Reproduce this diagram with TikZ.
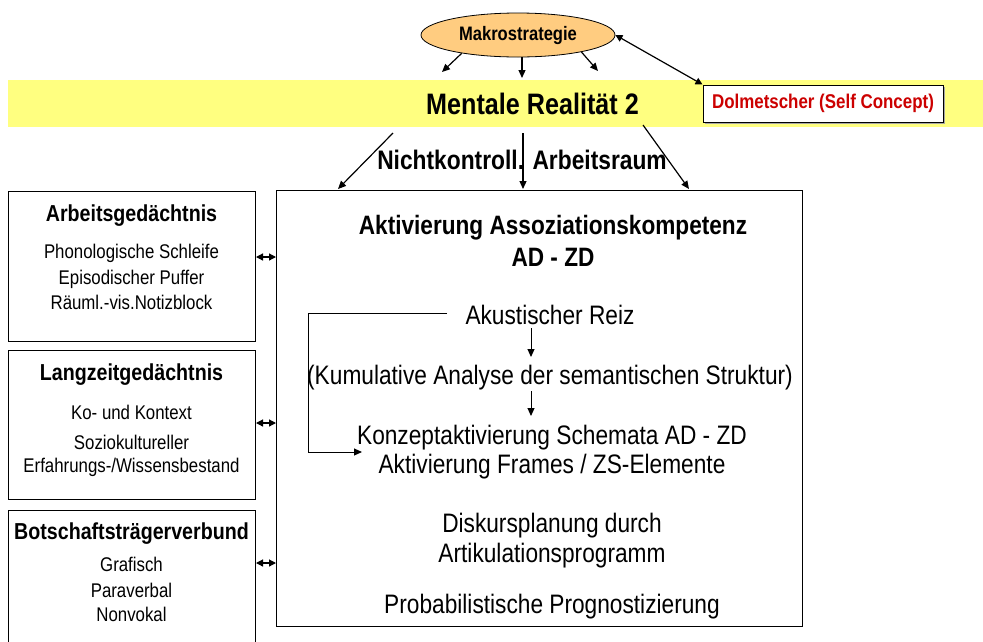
\documentclass[tikz,border=0pt]{standalone}
\usepackage{fontspec}
\setmainfont{Liberation Sans}[FakeStretch=0.85]
\usetikzlibrary{arrows.meta,shapes.geometric,shadows}
\definecolor{bandyellow}{RGB}{255,255,128}
\definecolor{makorange}{RGB}{255,204,128}
\definecolor{dolred}{RGB}{204,0,0}
\begin{document}
\begin{tikzpicture}[x=1pt,y=-1pt,
  arr/.style={line width=1.2pt,-{Triangle[length=8pt,width=7pt]}},
  darr/.style={line width=1.2pt,{Triangle[length=7pt,width=7pt]}-{Triangle[length=7pt,width=7pt]}},
  frame/.style={draw,line width=1pt,inner sep=0,anchor=north west},
  txt/.style={inner sep=0,anchor=base},
  reg/.style={txt,font=\fontsize{26.7}{31}\selectfont},
  hd/.style={txt,font=\bfseries\fontsize{26.6}{31}\selectfont},
  ttl/.style={txt,font=\bfseries\fontsize{23.1}{27}\selectfont},
  sm/.style={txt,font=\fontsize{19.8}{23}\selectfont}]
\useasboundingbox (0,0) rectangle (983,641);

% top band and ellipse
\node[fill=bandyellow,inner sep=0,anchor=north west,minimum width=975pt,minimum height=47pt] (band) at (8,80) {};
\node[draw,line width=0.8pt,fill=makorange,ellipse,inner sep=0,minimum width=194pt,minimum height=44pt,
      font=\bfseries\fontsize{19.5}{23}\selectfont] (mak) at (518,35) {Makrostrategie};
\node[draw,line width=1pt,fill=white,inner sep=0,minimum width=240pt,minimum height=37pt,text=dolred,
      drop shadow={shadow xshift=1.5pt,shadow yshift=-1.5pt,fill=gray!70,opacity=1},
      font=\bfseries\fontsize{19.9}{23}\selectfont] (dol) at (823,103.5) {Dolmetscher (Self Concept)};
\node[txt,font=\bfseries\fontsize{29.6}{34}\selectfont] (mr) at (532.5,114) {Mentale Realität 2};

% main box and left boxes
\node[frame,minimum width=526pt,minimum height=436pt] (main) at (276,190) {};
\node[frame,minimum width=247pt,minimum height=150pt] (ag) at (8,191) {};
\node[frame,minimum width=247pt,minimum height=149pt] (lz) at (8,350) {};
\node[frame,minimum width=247pt,minimum height=140pt] (bt) at (8,510) {};

\node[txt,font=\bfseries\fontsize{26.8}{31}\selectfont] (nk) at (522,169.5) {Nichtkontroll. Arbeitsraum};

% left texts
\node[ttl] (ag1) at (131.5,221) {Arbeitsgedächtnis};
\node[sm] (ag2) at (131.5,258) {Phonologische Schleife};
\node[sm] (ag3) at (131.5,284) {Episodischer Puffer};
\node[sm] (ag4) at (131.5,309) {Räuml.-vis.Notizblock};
\node[ttl] (lz1) at (131.5,380) {Langzeitgedächtnis};
\node[sm] (lz2) at (131.5,419) {Ko- und Kontext};
\node[sm] (lz3) at (131.5,449) {Soziokultureller};
\node[sm] (lz4) at (131.5,472) {Erfahrungs-/Wissensbestand};
\node[ttl] (bt1) at (131.5,539) {Botschaftsträgerverbund};
\node[sm] (bt2) at (131.5,571) {Grafisch};
\node[sm] (bt3) at (131.5,597) {Paraverbal};
\node[sm] (bt4) at (131.5,621) {Nonvokal};

% main texts
\node[hd] (h1) at (553,234.5) {Aktivierung Assoziationskompetenz};
\node[hd] (h2) at (553,266.5) {AD - ZD};
\node[reg] (reiz) at (550,324.5) {Akustischer Reiz};
\node[reg] (kum) at (550,384.5) {(Kumulative Analyse der semantischen Struktur)};
\node[reg] (konz) at (552,444.5) {Konzeptaktivierung Schemata AD - ZD};
\node[reg] (fram) at (552,473.5) {Aktivierung Frames / ZS-Elemente};
\node[reg] (disk) at (552,532.5) {Diskursplanung durch};
\node[reg] (artk) at (552,562.5) {Artikulationsprogramm};
\node[reg] (prob) at (552,613.5) {Probabilistische Prognostizierung};

% coordinates
\coordinate (a1) at (442,72);
\coordinate (a2) at (522,78);
\coordinate (a3) at (598,71);
\coordinate (s1) at (393,133);
\coordinate (s2) at (523,133);
\coordinate (s3) at (643,125);
\coordinate (e1) at (338,189);
\coordinate (e2) at (523,189);
\coordinate (e3) at (689,189);
\coordinate (y1) at (0,257);
\coordinate (y2) at (0,423);
\coordinate (y3) at (0,563);
\coordinate (l1) at (447,313);
\coordinate (l2) at (308,452);
\coordinate (l3) at (362,452);
\coordinate (v1) at (531,328);
\coordinate (v2) at (531,357);
\coordinate (v3) at (531,391);
\coordinate (v4) at (531,416);

% connectors
\draw[arr] (mak.198) -- (a1);
\draw[arr] (a2 |- mak.south) -- (a2);
\draw[arr] (mak.-15) -- (a3);
\draw[darr] (mak.east) -- (dol.north west);
\draw[arr] (s1) -- (e1);
\draw[arr] (s2) -- (e2);
\draw[arr] (s3) -- (e3);
\draw[darr] (ag.east |- y1) -- (main.west |- y1);
\draw[darr] (lz.east |- y2) -- (main.west |- y2);
\draw[darr] (bt.east |- y3) -- (main.west |- y3);
\draw[arr,line width=1pt] (l1) -| (l2) -- (l3);
\draw[arr,line width=1pt] (v1) -- (v2);
\draw[arr,line width=1pt] (v3) -- (v4);
\end{tikzpicture}
\end{document}
